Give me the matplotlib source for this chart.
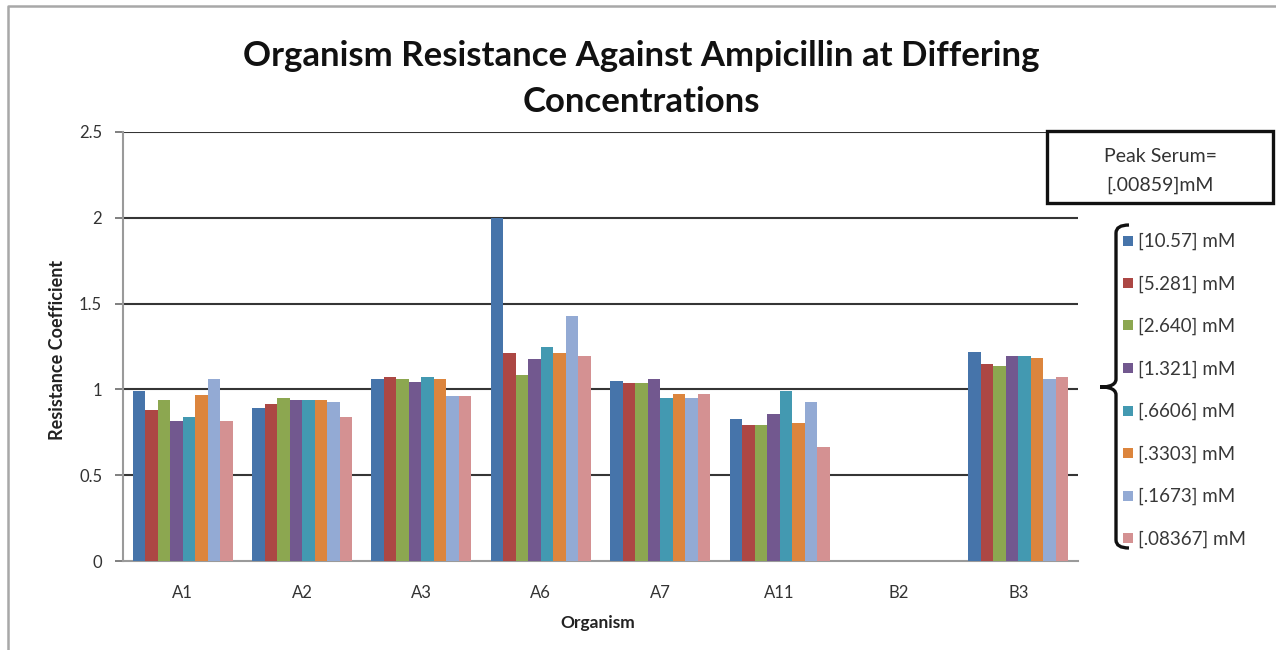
import matplotlib
matplotlib.use("Agg")
import matplotlib.pyplot as plt
import numpy as np
from matplotlib.patches import Rectangle, PathPatch
from matplotlib.path import Path
from matplotlib.lines import Line2D

plt.rcParams["font.family"] = ["Lato", "DejaVu Sans"]

# ---- data -------------------------------------------------------------
organisms = ["A1", "A2", "A3", "A6", "A7", "A11", "B2", "B3"]
concentration_labels = ["[10.57] mM", "[5.281] mM", "[2.640] mM", "[1.321] mM",
                        "[.6606] mM", "[.3303] mM", "[.1673] mM", "[.08367] mM"]

conc_10_57 = [0.99, 0.89, 1.06, 2.00, 1.05, 0.83, 0.0, 1.22]
conc_5_281 = [0.88, 0.915, 1.075, 1.21, 1.04, 0.79, 0.0, 1.15]
conc_2_640 = [0.94, 0.95, 1.06, 1.085, 1.04, 0.79, 0.0, 1.135]
conc_1_321 = [0.815, 0.94, 1.045, 1.18, 1.06, 0.855, 0.0, 1.195]
conc_0_6606 = [0.84, 0.94, 1.075, 1.245, 0.95, 0.99, 0.0, 1.195]
conc_0_3303 = [0.965, 0.94, 1.06, 1.21, 0.975, 0.805, 0.0, 1.185]
conc_0_1673 = [1.06, 0.925, 0.96, 1.43, 0.95, 0.925, 0.0, 1.06]
conc_0_08367 = [0.815, 0.84, 0.96, 1.195, 0.975, 0.665, 0.0, 1.075]

series = [conc_10_57, conc_5_281, conc_2_640, conc_1_321,
          conc_0_6606, conc_0_3303, conc_0_1673, conc_0_08367]

colors = ["#4674AA", "#AC4744", "#8CA750", "#72588F",
          "#4399B1", "#DC853D", "#93AAD4", "#D49192"]

y_ticks = [0, 0.5, 1, 1.5, 2, 2.5]
y_tick_labels = ["0", "0.5", "1", "1.5", "2", "2.5"]

# ---- figure -----------------------------------------------------------
W, H = 1276, 650
fig = plt.figure(figsize=(W / 100, H / 100), dpi=100)
fig.patch.set_facecolor("white")


def fx(px):
    return px / W


def fy(py):
    return 1 - py / H


ax = fig.add_axes([fx(123), fy(561), fx(1078) - fx(123), fy(132) - fy(561)])

x = np.arange(len(organisms))
n = len(series)
bar_w = 0.1047
for j, (vals, col) in enumerate(zip(series, colors)):
    ax.bar(x + (j - (n - 1) / 2) * bar_w, vals, width=bar_w, color=col,
           edgecolor="none", zorder=3, label=concentration_labels[j])

ax.set_xlim(-0.5, len(organisms) - 0.5)
ax.set_ylim(0, 2.5)
ax.set_yticks(y_ticks)
ax.set_yticklabels(y_tick_labels)
ax.set_xticks(x)
ax.set_xticklabels(organisms)

for v in y_ticks[1:]:
    ax.axhline(v, color="#353535", lw=1.5, zorder=2)

for side in ("top", "right"):
    ax.spines[side].set_visible(False)
for side in ("left", "bottom"):
    ax.spines[side].set_color("#9a9a9a")
    ax.spines[side].set_linewidth(1.5)

ax.tick_params(axis="y", direction="out", length=6, width=1.2, color="#6a6a6a",
               labelsize=12, labelcolor="#333333", pad=9)
ax.tick_params(axis="x", length=0, labelsize=12, labelcolor="#333333", pad=17)

# axis titles
fig.text(fx(58), fy(350), "Resistance Coefficient", rotation=90, ha="center",
         va="center", fontsize=13, fontweight="bold", color="#222222")
fig.text(fx(598), fy(623), "Organism", ha="center", va="center",
         fontsize=12.5, fontweight="bold", color="#222222")

# chart title
fig.text(fx(641), fy(66), "Organism Resistance Against Ampicillin at Differing",
         ha="center", va="baseline", fontsize=25, fontweight="bold", color="#111111")
fig.text(fx(641), fy(112), "Concentrations",
         ha="center", va="baseline", fontsize=25, fontweight="bold", color="#111111")

# peak serum annotation box
fig.patches.append(Rectangle((fx(1047), fy(203)), fx(1273) - fx(1047), fy(131) - fy(203),
                             transform=fig.transFigure, facecolor="white",
                             edgecolor="#111111", lw=2.4, zorder=5))
fig.text(fx(1160), fy(157), "Peak Serum=", ha="center", va="center",
         fontsize=14, color="#333333", zorder=6)
fig.text(fx(1160), fy(185), "[.00859]mM", ha="center", va="center",
         fontsize=14, color="#333333", zorder=6)

# legend entries
row0, row_step = 240.5, 42.5
for j, (lab, col) in enumerate(zip(concentration_labels, colors)):
    yc = row0 + j * row_step
    fig.patches.append(Rectangle((fx(1123), fy(yc + 5)), fx(10), 10 / H,
                                 transform=fig.transFigure, facecolor=col,
                                 edgecolor="none"))
    fig.text(fx(1138), fy(yc + 1), lab, ha="left", va="center",
             fontsize=13.5, color="#383838")

# curly bracket grouping the legend
bx, tip_x, top, bot, mid = 1116, 1100, 225, 548, 387
hook = 1129
verts = [(hook, top), (bx, top), (bx, top + 8),
         (bx, mid - 8),
         (bx, mid), (tip_x + 4, mid), (tip_x, mid),
         (tip_x + 4, mid), (bx, mid), (bx, mid + 8),
         (bx, bot - 8),
         (bx, bot), (hook, bot)]
codes = [Path.MOVETO, Path.CURVE3, Path.CURVE3,
         Path.LINETO,
         Path.CURVE4, Path.CURVE4, Path.CURVE4,
         Path.CURVE4, Path.CURVE4, Path.CURVE4,
         Path.LINETO,
         Path.CURVE3, Path.CURVE3]
verts_f = [(fx(a), fy(b)) for a, b in verts]
fig.patches.append(PathPatch(Path(verts_f, codes), transform=fig.transFigure,
                             facecolor="none", edgecolor="#111111", lw=2.4))

# outer chart frame (top and left edges)
fig.lines.append(Line2D([fx(8), fx(8), fx(1276)], [fy(650), fy(6), fy(6)],
                        transform=fig.transFigure, color="#a8a8a8", lw=1.8))

fig.savefig("out.png", dpi=100, facecolor="white")
